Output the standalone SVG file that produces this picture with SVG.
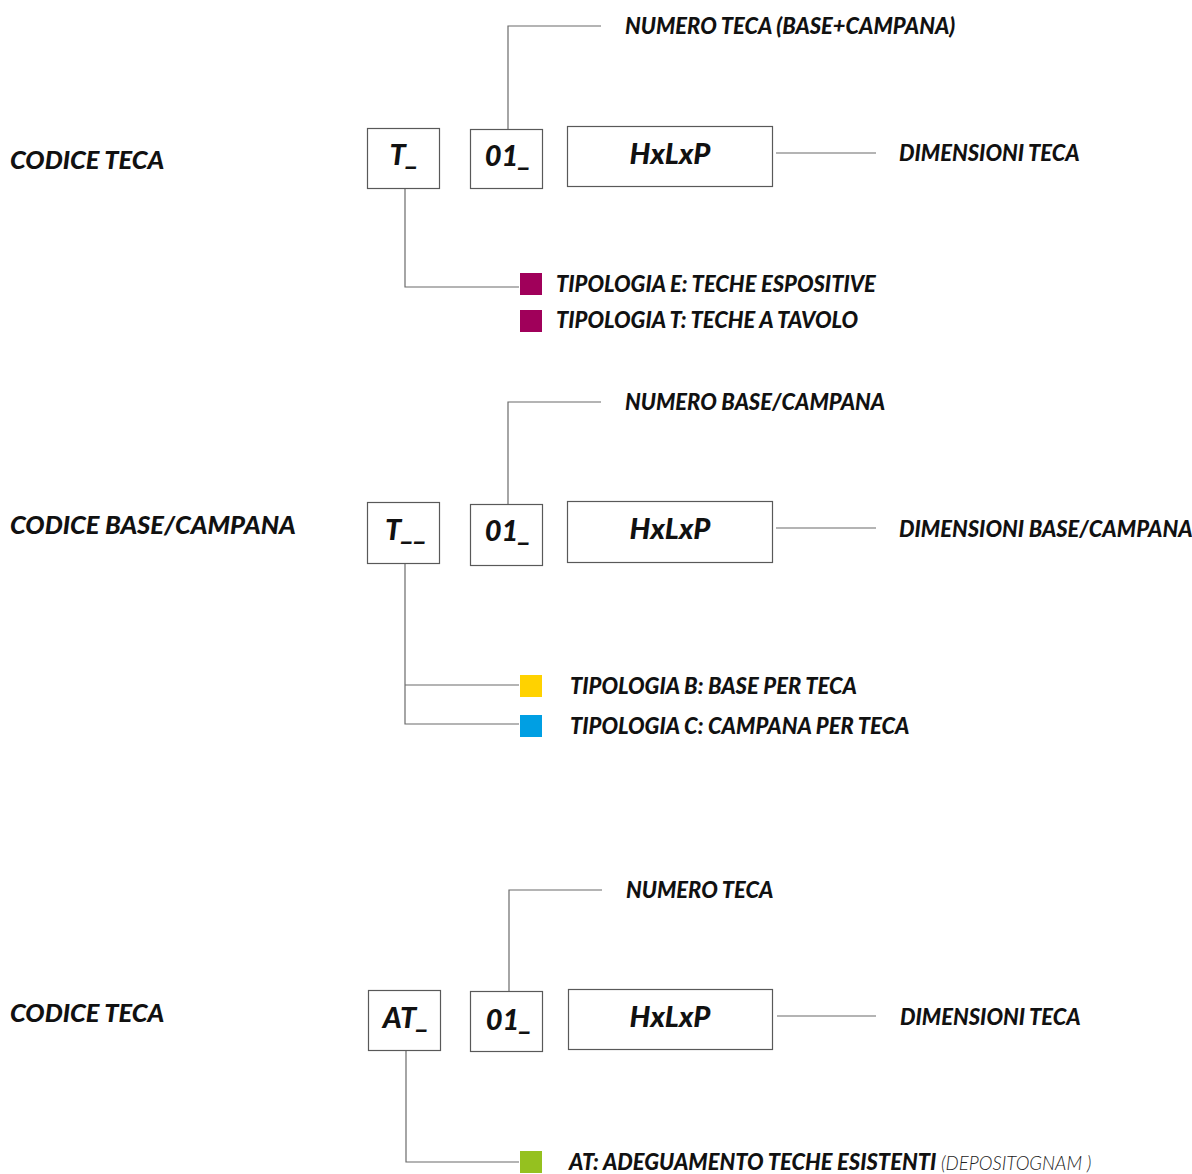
<svg xmlns="http://www.w3.org/2000/svg" width="1192" height="1174" viewBox="0 0 1192 1174">
<style>
.bg{fill:#fff}
.box{fill:#fff;stroke:#595959;stroke-width:1.2}
.ln{fill:none;stroke:#6b6b6b;stroke-width:1.2}
.t{font-family:Lato,"Liberation Sans",sans-serif;font-style:italic;font-weight:900;fill:#111}
.h{font-size:25.5px}
.l{font-size:21.9px}
.b{font-size:29px;text-anchor:middle}
.n{font-family:Lato,"Liberation Sans",sans-serif;font-style:italic;font-weight:300;font-size:18.6px;fill:#222}
.mag{fill:#A0005A}.yel{fill:#FFD200}.blu{fill:#009FE3}.grn{fill:#95C11F}
</style>
<rect class="bg" x="0" y="0" width="1192" height="1174"/>
<g id="connectors">
<path class="ln" d="M508,129V26H601"/>
<path class="ln" d="M776,153H876"/>
<path class="ln" d="M405,188V287H519"/>
<path class="ln" d="M508,504V402H601"/>
<path class="ln" d="M776,528H876"/>
<path class="ln" d="M405,563V724H519M405,685H519"/>
<path class="ln" d="M509,991V890H602"/>
<path class="ln" d="M777,1016H876"/>
<path class="ln" d="M406,1050V1162H519"/>
</g>
<g id="section1">
<text class="t h" x="10" y="169">CODICE TECA</text>
<g id="s1-t"><rect class="box" x="367.5" y="128.5" width="72" height="60"/><text class="t b" x="404" y="165">T_</text></g>
<g id="s1-num"><rect class="box" x="470.5" y="129.5" width="72" height="59"/><text class="t b" x="508" y="166">01_</text></g>
<g id="s1-dim"><rect class="box" x="567.5" y="126.5" width="205" height="60"/><text class="t b" x="670" y="164">HxLxP</text></g>
<text class="t l" x="625" y="34">NUMERO TECA (BASE+CAMPANA)</text>
<text class="t l" x="899" y="161">DIMENSIONI TECA</text>
<g id="s1-e"><rect class="mag" x="520" y="273" width="22" height="22"/><text class="t l" x="556" y="292">TIPOLOGIA E: TECHE ESPOSITIVE</text></g>
<g id="s1-tt"><rect class="mag" x="520" y="310" width="22" height="22"/><text class="t l" x="556" y="328">TIPOLOGIA T: TECHE A TAVOLO</text></g>
</g>
<g id="section2">
<text class="t h" x="10" y="534">CODICE BASE/CAMPANA</text>
<g id="s2-t"><rect class="box" x="367.5" y="502.5" width="72" height="61"/><text class="t b" x="406" y="540">T__</text></g>
<g id="s2-num"><rect class="box" x="470.5" y="504.5" width="72" height="61"/><text class="t b" x="508" y="541">01_</text></g>
<g id="s2-dim"><rect class="box" x="567.5" y="501.5" width="205" height="61"/><text class="t b" x="670" y="539">HxLxP</text></g>
<text class="t l" x="625" y="410">NUMERO BASE/CAMPANA</text>
<text class="t l" x="899" y="537">DIMENSIONI BASE/CAMPANA</text>
<g id="s2-b"><rect class="yel" x="520" y="675" width="22" height="22"/><text class="t l" x="570" y="694">TIPOLOGIA B: BASE PER TECA</text></g>
<g id="s2-c"><rect class="blu" x="520" y="715" width="22" height="22"/><text class="t l" x="570" y="734">TIPOLOGIA C: CAMPANA PER TECA</text></g>
</g>
<g id="section3">
<text class="t h" x="10" y="1022">CODICE TECA</text>
<g id="s3-at"><rect class="box" x="368.5" y="990.5" width="72" height="60"/><text class="t b" x="406" y="1028">AT_</text></g>
<g id="s3-num"><rect class="box" x="470.5" y="991.5" width="72" height="60"/><text class="t b" x="509" y="1030">01_</text></g>
<g id="s3-dim"><rect class="box" x="568.5" y="989.5" width="204" height="60"/><text class="t b" x="670" y="1027">HxLxP</text></g>
<text class="t l" x="626" y="898">NUMERO TECA</text>
<text class="t l" x="900" y="1025">DIMENSIONI TECA</text>
<g id="s3-ad"><rect class="grn" x="520" y="1151" width="22" height="22"/><text class="t l" x="569" y="1170">AT: ADEGUAMENTO TECHE ESISTENTI</text><text class="n" x="941" y="1170">(DEPOSITOGNAM )</text></g>
</g>
</svg>
